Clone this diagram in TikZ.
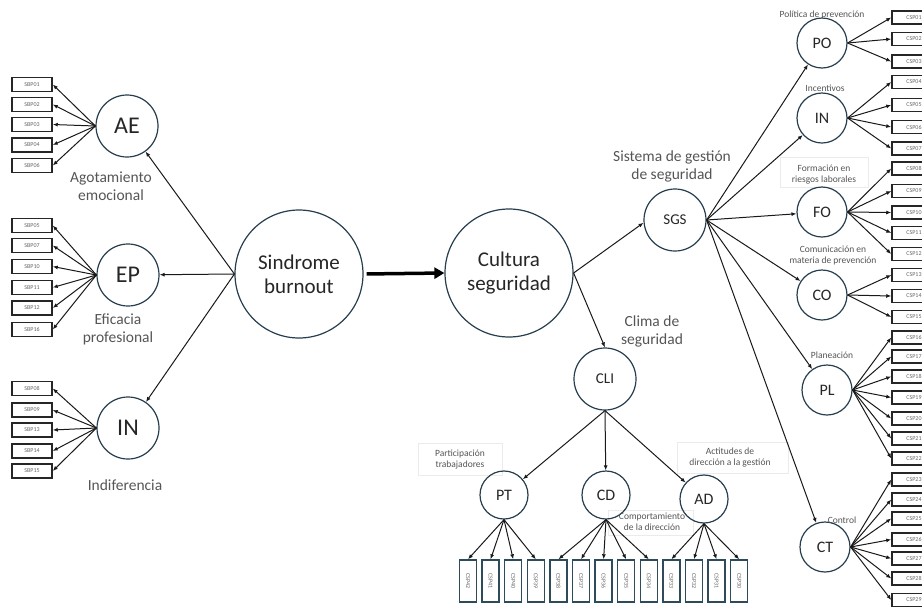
\documentclass[tikz,border=0pt]{standalone}
\usepackage{fontspec}
\setmainfont{Carlito}
\usetikzlibrary{arrows.meta}
\definecolor{circc}{RGB}{38,62,78}
\definecolor{lbl}{RGB}{85,85,85}
\definecolor{bbc}{RGB}{45,75,90}
\begin{document}
\begin{tikzpicture}[x=1pt,y=-1pt,
  lat/.style={circle,draw=circc,line width=1.2pt,inner sep=0pt,text=black!85},
  big/.style={lat,minimum size=128pt,font=\fontsize{21}{24}\selectfont,align=center},
  lvone/.style={lat,minimum size=62pt,font=\fontsize{24}{26}\selectfont},
  mid/.style={lat,minimum size=62pt,font=\fontsize{15}{17}\selectfont},
  sm/.style={lat,minimum size=50pt,font=\fontsize{16}{18}\selectfont},
  bt/.style={lat,minimum size=48pt,font=\fontsize{16}{18}\selectfont},
  lbox/.style={draw=black!85,line width=1.5pt,minimum width=40pt,minimum height=14pt,inner sep=0pt,font=\fontsize{6}{7}\selectfont,text=black!60},
  rbox/.style={draw=black!85,line width=1.5pt,minimum width=44pt,minimum height=13pt,inner sep=0pt,font=\fontsize{6}{7}\selectfont,text=black!60},
  bbox/.style={draw=bbc,line width=1.4pt,minimum width=17pt,minimum height=42pt,inner sep=0pt,font=\fontsize{6}{7}\selectfont,text=black!60},
  lab/.style={text=lbl,align=center,font=\fontsize{15.5}{18}\selectfont},
  slab/.style={text=lbl,align=center,font=\fontsize{9.5}{11}\selectfont},
  con/.style={-{Latex[length=5pt,width=4pt]},line width=1pt,black!90},
  faint/.style={draw=black!8,line width=0.6pt}
]
\useasboundingbox (0,0) rectangle (922,606);
\clip (0,0) rectangle (922,606);

% faint text boxes
\draw[faint] (780,157) rectangle (868,187);
\draw[faint] (418,443) rectangle (502,475);
\draw[faint] (677,442) rectangle (788,473);
\draw[faint] (608,510) rectangle (693,535);

% main circles
\node[big] (SB) at (299,274) {Sindrome\\burnout};
\node[big] (CS) at (509,273) {Cultura\\seguridad};
\draw[line width=3.5pt,-{Triangle[length=10pt,width=11pt]},shorten <=3pt] (SB.east) -- (CS.west);

% left side
\node[lvone] (AE) at (127,126) {AE};
\node[lvone] (EP) at (128,275) {EP};
\node[lvone] (INb) at (128,428) {IN};
\draw[con] (SB.west) -- (AE);
\draw[con] (SB.west) -- (EP);
\draw[con] (SB.west) -- (INb);
\node[lab] at (111,186) {Agotamiento\\emocional};
\node[lab] at (118,329) {Eficacia\\profesional};
\node[lab] at (125,485) {Indiferencia};

\foreach \n/\y in {SBP01/84.5,SBP02/104.5,SBP03/124.5,SBP04/145,SBP06/165.5}{
  \node[lbox] (\n) at (32,\y) {\n};
  \draw[con] (AE.west) -- (\n.east);}
\foreach \n/\y in {SBP05/225.5,SBP07/245.5,SBP10/266.5,SBP11/287.5,SBP12/308,SBP16/329.5}{
  \node[lbox] (\n) at (32,\y) {\n};
  \draw[con] (EP.west) -- (\n.east);}
\foreach \n/\y in {SBP08/388.5,SBP09/410,SBP13/430,SBP14/451,SBP15/471}{
  \node[lbox] (\n) at (32,\y) {\n};
  \draw[con] (INb.west) -- (\n.east);}

% SGS and CLI
\node[mid] (SGS) at (675,220) {SGS};
\node[mid] (CLI) at (605,379) {CLI};
\draw[con] (CS.east) -- (SGS.185);
\draw[con] (CS.east) -- (CLI.north);
\node[lab] at (672,166) {Sistema de gestión\\de seguridad};
\node[lab] at (652,331) {Clima de\\seguridad};

% right circles
\node[sm] (PO) at (822,43) {PO};
\node[sm] (INr) at (822,118) {IN};
\node[sm] (FO) at (822,212) {FO};
\node[sm] (CO) at (822,295) {CO};
\node[sm] (PL) at (827,390) {PL};
\node[sm] (CT) at (825,547) {CT};
\foreach \c in {PO,INr,FO,CO,PL,CT}{\draw[con] (SGS.east) -- (\c);}

\node[slab] at (822,15) {Política de prevención};
\node[slab] at (825,88) {Incentivos};
\node[slab] at (824,174.5) {Formación en\\riesgos laborales};
\node[slab] at (833,255.5) {Comunicación en\\materia de prevención};
\node[slab] at (832,355) {Planeación};
\node[slab] at (842,520) {Control};

% right boxes
\foreach \n/\y/\c in {CSP01/17.5/PO,CSP02/39/PO,CSP03/61.5/PO,
  CSP04/82/INr,CSP05/105/INr,CSP06/127/INr,CSP07/148.5/INr,
  CSP08/168.5/FO,CSP09/191/FO,CSP10/212.5/FO,CSP11/233/FO,CSP12/254/FO,
  CSP13/275/CO,CSP14/296/CO,CSP15/317/CO,
  CSP16/337.5/PL,CSP17/356.5/PL,CSP18/376.5/PL,CSP19/397.5/PL,CSP20/418.5/PL,CSP21/438.5/PL,CSP22/458.5/PL,
  CSP23/479.5/CT,CSP24/499.5/CT,CSP25/518.5/CT,CSP26/539.5/CT,CSP27/558.5/CT,CSP28/578.5/CT,CSP29/600/CT}{
  \node[rbox] (\n) at (914,\y) {\n};
  \draw[con] (\c.east) -- (\n.west);}

% bottom circles
\node[bt] (PT) at (504,495) {PT};
\node[bt] (CD) at (606,495) {CD};
\node[bt] (AD) at (704,499) {AD};
\draw[con] (CLI.south) -- (PT);
\draw[con] (CLI.south) -- (CD);
\draw[con] (CLI.south) -- (AD);
\node[slab] at (460,460) {Participación\\trabajadores};
\node[slab] at (652,522) {Comportamiento\\de la dirección};
\node[slab] at (730,457.5) {Actitudes de\\dirección a la gestión};

\foreach \n/\i/\c in {CSP42/0/PT,CSP41/1/PT,CSP40/2/PT,CSP39/3/PT,
  CSP38/4/CD,CSP37/5/CD,CSP36/6/CD,CSP35/7/CD,CSP34/8/CD,
  CSP33/9/AD,CSP32/10/AD,CSP31/11/AD,CSP30/12/AD}{
  \node[bbox] (\n) at ({468+22.6*\i},581) {\rotatebox{-90}{\n}};
  \draw[con] (\c.south) -- (\n.north);}
\end{tikzpicture}
\end{document}
